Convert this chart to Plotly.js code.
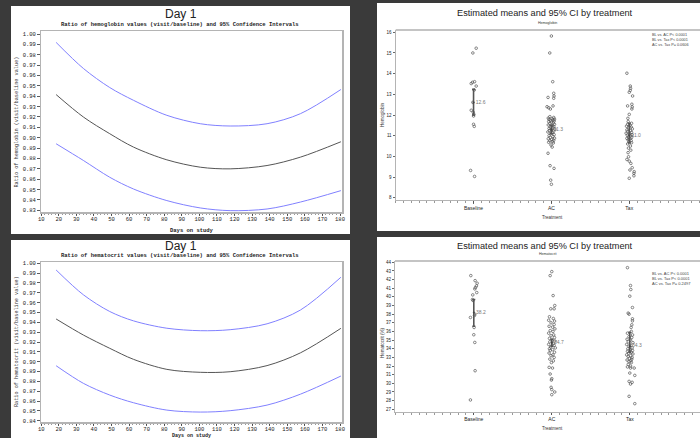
<!DOCTYPE html>
<html><head><meta charset="utf-8">
<script src="https://cdn.plot.ly/plotly-3.0.1.min.js"></script>
<style>html,body{margin:0;padding:0;background:#3a3a3a;}#chart{width:700px;height:438px;}</style>
</head><body><div id="chart"></div>
<script>
// ---------- Day 1 curves (ratio vs days on study) ----------
const days = [18.5, 34, 49, 62.5, 81.5, 100.5, 117.5, 138.5, 157.5, 180.5];
const hgbRatio = [0.9416, 0.9200, 0.9039, 0.8910, 0.8787, 0.8716, 0.8700, 0.8732, 0.8813, 0.8961];
const hgbUpper = [0.9919, 0.9668, 0.9484, 0.9361, 0.9216, 0.9135, 0.9113, 0.9135, 0.9232, 0.9465];
const hgbLower = [0.8942, 0.8781, 0.8619, 0.8506, 0.8394, 0.8323, 0.8297, 0.8313, 0.8380, 0.8490];
const hctRatio = [0.9434, 0.9271, 0.9136, 0.9024, 0.8922, 0.8892, 0.8898, 0.8960, 0.9090, 0.9339];
const hctUpper = [0.9932, 0.9680, 0.9510, 0.9415, 0.9340, 0.9315, 0.9325, 0.9385, 0.9525, 0.9858];
const hctLower = [0.8959, 0.8780, 0.8661, 0.8583, 0.8508, 0.8488, 0.8502, 0.8559, 0.8670, 0.8854];

// ---------- Treatment groups ----------
const groups = ['Baseline', 'AC', 'Tax'];
const hgbMean = [12.6, 11.3, 11.0];
const hgbLo = [12.0, 11.1, 10.65];
const hgbHi = [13.24, 11.5, 11.6];
const hctMean = [38.2, 34.7, 34.3];
const hctLo = [36.6, 34.3, 33.6];
const hctHi = [39.7, 35.1, 35.9];

// individual hemoglobin values (jittered group position, value)
const hgbBaseX = [1.034, 0.991, 0.970, 0.987, 1.013, 1.034, 1.009, 0.991, 0.970, 0.996, 1.004, 1.0, 1.0, 1.009, 0.962, 1.013];
const hgbBaseY = [15.23, 15.00, 13.52, 13.58, 13.61, 13.40, 13.21, 12.61, 12.23, 12.13, 12.03, 11.95, 11.55, 11.45, 9.32, 9.03];
const hgbACX = [2.0, 1.979, 2.017, 1.957, 2.03, 2.034, 2.03, 2.021, 1.966, 1.987, 1.944,
  1.98, 2.03, 1.96, 2.01, 2.04, 1.97, 2.02, 1.99, 2.035, 1.965, 2.0, 2.025, 1.98, 2.04, 1.96, 2.01, 2.03, 1.985, 2.02, 1.97, 2.045, 2.0, 1.975, 2.03, 1.955, 2.015, 1.99, 2.035, 1.97, 2.02, 1.985, 2.04, 1.96, 2.005, 2.03, 1.98, 2.015, 1.965, 2.025, 1.995, 2.01,
  1.957, 1.983, 2.034, 1.991, 2.0];
const hgbACY = [15.82, 15.00, 13.61, 12.85, 13.05, 12.92, 12.81, 12.44, 12.35, 12.29, 12.40,
  11.92, 11.88, 11.85, 11.82, 11.80, 11.78, 11.76, 11.74, 11.71, 11.68, 11.66, 11.62, 11.58, 11.55, 11.52, 11.48, 11.45, 11.42, 11.38, 11.35, 11.32, 11.28, 11.25, 11.22, 11.18, 11.15, 11.10, 11.05, 11.00, 10.96, 10.92, 10.88, 10.85, 10.82, 10.78, 10.75, 10.72, 10.68, 10.65, 10.55, 10.45,
  10.15, 9.55, 9.42, 8.85, 8.65];
const hgbTaxX = [2.97, 3.013, 3.017, 3.013, 3.0, 3.043, 3.034, 3.038, 2.979, 3.034, 3.0, 2.983, 2.987,
  3.03, 2.98, 3.01, 2.965, 3.025, 2.99, 3.04, 2.97, 3.015, 2.98, 3.03, 2.96, 3.005, 3.035, 2.975, 3.02, 2.99, 3.03, 2.97, 3.01, 2.985, 3.025, 2.995, 3.03, 2.98, 3.015, 2.99, 3.02, 2.985,
  2.991, 2.97, 3.0, 3.021, 3.038, 3.009, 3.064, 3.06, 3.06, 3.0];
const hgbTaxY = [14.02, 13.40, 13.29, 13.19, 13.10, 12.92, 12.52, 12.39, 12.44, 12.29, 12.03, 11.84, 11.68,
  11.60, 11.55, 11.50, 11.46, 11.42, 11.38, 11.33, 11.28, 11.24, 11.20, 11.16, 11.12, 11.08, 11.05, 11.02, 10.98, 10.95, 10.91, 10.87, 10.84, 10.80, 10.76, 10.71, 10.66, 10.60, 10.50, 10.40, 10.30, 10.18,
  9.98, 9.85, 9.77, 9.66, 9.45, 9.34, 9.26, 9.18, 9.06, 8.94];

// individual hematocrit values
const hctBaseX = [0.962, 1.017, 1.043, 1.034, 1.021, 1.013, 1.038, 0.987, 0.983, 0.991, 1.013, 1.009, 0.957, 1.004, 1.0, 1.013, 1.017, 0.957];
const hctBaseY = [42.46, 41.88, 41.58, 41.27, 41.08, 40.92, 40.50, 40.23, 39.69, 39.58, 38.00, 37.85, 37.62, 36.46, 35.62, 34.73, 31.46, 28.08];
const hctACX = [2.0, 1.979, 2.017, 1.987, 2.03, 2.038,
  1.97, 2.02, 1.96, 2.035, 1.99, 2.03, 1.965, 2.01, 2.04, 1.98, 2.015, 1.96, 2.025, 1.99, 2.035, 1.97, 2.005, 2.04, 1.975, 2.02, 1.96, 2.03, 1.985, 2.045, 1.97, 2.01, 1.98, 2.035, 1.965, 2.015, 1.99, 2.03, 1.975, 2.02, 1.995,
  1.966, 2.009, 1.979, 2.0, 1.995, 1.991, 2.0, 2.038, 2.0];
const hctACY = [42.92, 42.46, 40.15, 38.62, 38.62, 39.0,
  37.7, 37.5, 37.3, 37.2, 37.0, 36.8, 36.6, 36.5, 36.3, 36.1, 36.0, 35.8, 35.6, 35.5, 35.3, 35.2, 35.0, 34.9, 34.8, 34.6, 34.5, 34.4, 34.2, 34.1, 34.0, 33.9, 33.8, 33.6, 33.5, 33.3, 33.2, 33.0, 32.8, 32.6, 32.4,
  31.85, 31.77, 31.08, 30.54, 30.38, 29.54, 29.27, 29.0, 28.69];
const hctTaxX = [2.97, 3.009, 3.013, 3.0, 3.034, 2.979, 2.991, 3.034, 3.034, 3.026, 3.017,
  3.02, 2.97, 3.035, 2.99, 3.025, 2.965, 3.01, 2.98, 3.04, 2.96, 3.015, 2.99, 3.03, 2.975, 3.005, 3.035, 2.97, 3.02, 2.985, 3.04, 2.96, 3.01, 2.98, 3.03, 2.995, 3.025, 2.965, 3.015, 2.99, 3.02, 2.98, 3.01, 2.97,
  3.009, 3.056, 3.0, 3.064, 2.991, 3.03, 3.009, 2.991, 3.064];
const hctTaxY = [43.38, 41.31, 40.85, 40.08, 38.77, 38.12, 38.0, 37.46, 37.23, 36.77, 36.46,
  36.0, 35.8, 35.6, 35.4, 35.3, 35.1, 35.0, 34.8, 34.7, 34.5, 34.4, 34.3, 34.1, 34.0, 33.9, 33.8, 33.7, 33.6, 33.5, 33.4, 33.3, 33.2, 33.1, 33.0, 32.9, 32.8, 32.7, 32.6, 32.5, 32.4, 32.2, 32.0, 31.9,
  31.77, 31.77, 31.19, 30.92, 30.23, 30.12, 29.92, 28.5, 27.65];

const pvalHgb = ['BL vs. AC P< 0.0001', 'BL vs. Tax P< 0.0001', 'AC vs. Tax P= 0.0606'];
const pvalHct = ['BL vs. AC P< 0.0001', 'BL vs. Tax P< 0.0001', 'AC vs. Tax P= 0.2497'];

// ---------- layout helpers ----------
const W = 700, H = 438;
const px = v => v / W, py = v => 1 - v / H;
const MONO = 'Liberation Mono, DejaVu Sans Mono, monospace';
const SANS = 'Liberation Sans, Arial, sans-serif';

const blue = '#8080ff', grey = '#555555';
const traces = [];
function curve(x, y, c, ax) {
  traces.push({x: x, y: y, type: 'scatter', mode: 'lines', line: {color: c, width: 1, shape: 'spline', smoothing: 0.9},
    xaxis: 'x' + ax, yaxis: 'y' + ax, hoverinfo: 'skip', showlegend: false});
}
curve(days, hgbUpper, blue, ''); curve(days, hgbRatio, grey, ''); curve(days, hgbLower, blue, '');
curve(days, hctUpper, blue, '3'); curve(days, hctRatio, grey, '3'); curve(days, hctLower, blue, '3');

function pts(x, y, ax) {
  traces.push({x: x, y: y, type: 'scatter', mode: 'markers', xaxis: 'x' + ax, yaxis: 'y' + ax, showlegend: false,
    marker: {symbol: 'circle-open', size: 2.6, color: '#555', line: {width: 0.7, color: '#555'}}});
}
pts(hgbBaseX, hgbBaseY, '2'); pts(hgbACX, hgbACY, '2'); pts(hgbTaxX, hgbTaxY, '2');
pts(hctBaseX, hctBaseY, '4'); pts(hctACX, hctACY, '4'); pts(hctTaxX, hctTaxY, '4');

function means(m, lo, hi, ax) {
  traces.push({x: [1, 2, 3], y: m, type: 'scatter', mode: 'markers+text', xaxis: 'x' + ax, yaxis: 'y' + ax, showlegend: false,
    text: m.map(v => v.toFixed(1)), textposition: 'middle right', textfont: {family: SANS, size: 5, color: '#777'},
    marker: {size: 2, color: '#444'},
    error_y: {type: 'data', symmetric: false, array: hi.map((h, i) => h - m[i]), arrayminus: lo.map((l, i) => m[i] - l),
      color: '#555', thickness: 1.6, width: 1.5}});
}
means(hgbMean, hgbLo, hgbHi, '2');
means(hctMean, hctLo, hctHi, '4');

const tickF = {family: MONO, size: 5.5, color: '#222'};
const tinyF = {family: SANS, size: 4.5, color: '#333'};
function curveX(dom) {
  return {domain: dom, range: [9.9, 181.3], tickmode: 'array', tickvals: [10,20,30,40,50,60,70,80,90,100,110,120,130,140,150,160,170,180],
    ticks: 'outside', ticklen: 2.5, tickwidth: 0.8, tickcolor: '#333', tickfont: tickF, ticklabelstandoff: -2, showgrid: false, zeroline: false,
    showline: true, mirror: true, linecolor: '#b4b4b4', linewidth: 1.5,
    minor: {tickmode: 'linear', tick0: 0, dtick: 2, ticks: 'outside', ticklen: 1.5, tickcolor: '#555', tickwidth: 0.6, showgrid: false}};
}
function curveY(dom, r) {
  return {domain: dom, range: r, dtick: 0.01, tick0: 0, tickformat: '.2f', ticks: 'outside', ticklen: 2.5, tickwidth: 0.8,
    tickcolor: '#333', tickfont: tickF, showgrid: false, zeroline: false, showline: true, mirror: true, linecolor: '#b4b4b4', linewidth: 1.5};
}
function catX(dom, r) {
  return {domain: dom, range: r, tickmode: 'array', tickvals: [1, 2, 3], ticktext: groups, ticks: 'outside', ticklen: 2.5,
    tickwidth: 0.8, tickcolor: '#444', tickfont: {family: SANS, size: 5, color: '#222'}, showgrid: false, zeroline: false,
    showline: true, linecolor: '#b4b4b4', linewidth: 1.2,
    minor: {tickmode: 'linear', tick0: 0, dtick: 0.1, ticks: 'outside', ticklen: 2, tickcolor: '#555', tickwidth: 0.6, showgrid: false}};
}
function catY(dom, r) {
  return {domain: dom, range: r, dtick: 1, ticks: 'outside', ticklen: 2, tickwidth: 0.8, tickcolor: '#444',
    tickfont: {family: SANS, size: 4.5, color: '#222'}, showgrid: false, zeroline: false, showline: true, linecolor: '#b4b4b4', linewidth: 1.2};
}

const shapes = [];
function panel(x0, y0, x1, y1) {
  shapes.push({type: 'rect', xref: 'paper', yref: 'paper', x0: px(x0), x1: px(x1), y0: py(y1), y1: py(y0),
    fillcolor: '#ffffff', line: {width: 0}, layer: 'below'});
}
panel(11, 6, 350, 234); panel(377, 3, 700, 231); panel(11, 240, 350, 438); panel(377, 237, 700, 438);
shapes.push({type: 'line', xref: 'paper', yref: 'paper', x0: px(395.7), x1: 1, y0: py(30), y1: py(30), line: {color: '#c4c4c4', width: 1.8}});
shapes.push({type: 'line', xref: 'paper', yref: 'paper', x0: px(395), x1: 1, y0: py(261), y1: py(261), line: {color: '#c4c4c4', width: 1.8}});

const ann = [];
function txt(t, x, y, font, angle) {
  ann.push({text: t, x: px(x), y: py(y), xref: 'paper', yref: 'paper', showarrow: false, font: font,
    xanchor: 'center', yanchor: 'middle', textangle: angle || 0});
}
const dayF = {family: SANS, size: 12, color: '#222'};
const subF = {family: MONO, size: 5.5, color: '#222', weight: 'bold'};
txt('Day 1', 180.7, 14, dayF);
txt('Ratio of hemoglobin values (visit/baseline) and 95% Confidence Intervals', 180, 25, subF);
txt('Ratio of hemoglobin (visit/baseline value)', 17, 122.5, {family: MONO, size: 5.2, color: '#333'}, -90);
txt('Days on study', 191.5, 230.5, subF);
txt('Day 1', 180.7, 245.5, dayF);
txt('Ratio of hematocrit values (visit/baseline) and 95% Confidence Intervals', 180, 255.5, subF);
txt('Ratio of hematocrit (visit/baseline value)', 17, 342, {family: MONO, size: 5.2, color: '#333'}, -90);
txt('Days on study', 191.5, 435.5, {family: MONO, size: 5, color: '#222', weight: 'bold'});

const titF = {family: SANS, size: 9.2, color: '#222'};
txt('Estimated means and 95% CI by treatment', 545, 13, titF);
txt('Hemoglobin', 547, 23, {family: SANS, size: 3.6, color: '#333'});
txt('Hemoglobin', 382, 115, tinyF, -90);
txt('Treatment', 552.7, 218, tinyF);
txt('Estimated means and 95% CI by treatment', 545, 245.7, titF);
txt('Hematocrit', 547, 253.5, {family: SANS, size: 3.6, color: '#333'});
txt('Hematocrit (%)', 382, 343, tinyF, -90);
txt('Treatment', 552.7, 428, tinyF);
ann.push({text: pvalHgb.join('<br>'), x: px(650), y: py(31.5), xref: 'paper', yref: 'paper', xanchor: 'left', yanchor: 'top',
  showarrow: false, align: 'left', font: {family: SANS, size: 3.8, color: '#444'}});
ann.push({text: pvalHct.join('<br>'), x: px(650), y: py(269), xref: 'paper', yref: 'paper', xanchor: 'left', yanchor: 'top',
  showarrow: false, align: 'left', font: {family: SANS, size: 4, color: '#444'}});

const layout = {
  width: W, height: H, margin: {l: 0, r: 0, t: 0, b: 0},
  paper_bgcolor: '#3a3a3a', plot_bgcolor: 'rgba(0,0,0,0)', showlegend: false,
  xaxis: Object.assign(curveX([px(41), px(342.3)]), {anchor: 'y'}),
  yaxis: Object.assign(curveY([py(212), py(31)], [0.8284, 1.0029]), {anchor: 'x'}),
  xaxis3: Object.assign(curveX([px(41), px(342.3)]), {anchor: 'y3'}),
  yaxis3: Object.assign(curveY([py(422.3), py(262.3)], [0.8384, 1.001]), {anchor: 'x3'}),
  xaxis2: Object.assign(catX([px(395.7), 1], [0, 3.909]), {anchor: 'y2'}),
  yaxis2: Object.assign(catY([py(200), py(30)], [7.89, 16.11]), {anchor: 'x2'}),
  xaxis4: Object.assign(catX([px(395), 1], [-0.01, 3.9]), {anchor: 'y4'}),
  yaxis4: Object.assign(catY([py(411.7), py(261)], [26.72, 44.15]), {anchor: 'x4'}),
  shapes: shapes, annotations: ann
};
Plotly.newPlot('chart', traces, layout, {displayModeBar: false, staticPlot: true});
</script></body></html>
